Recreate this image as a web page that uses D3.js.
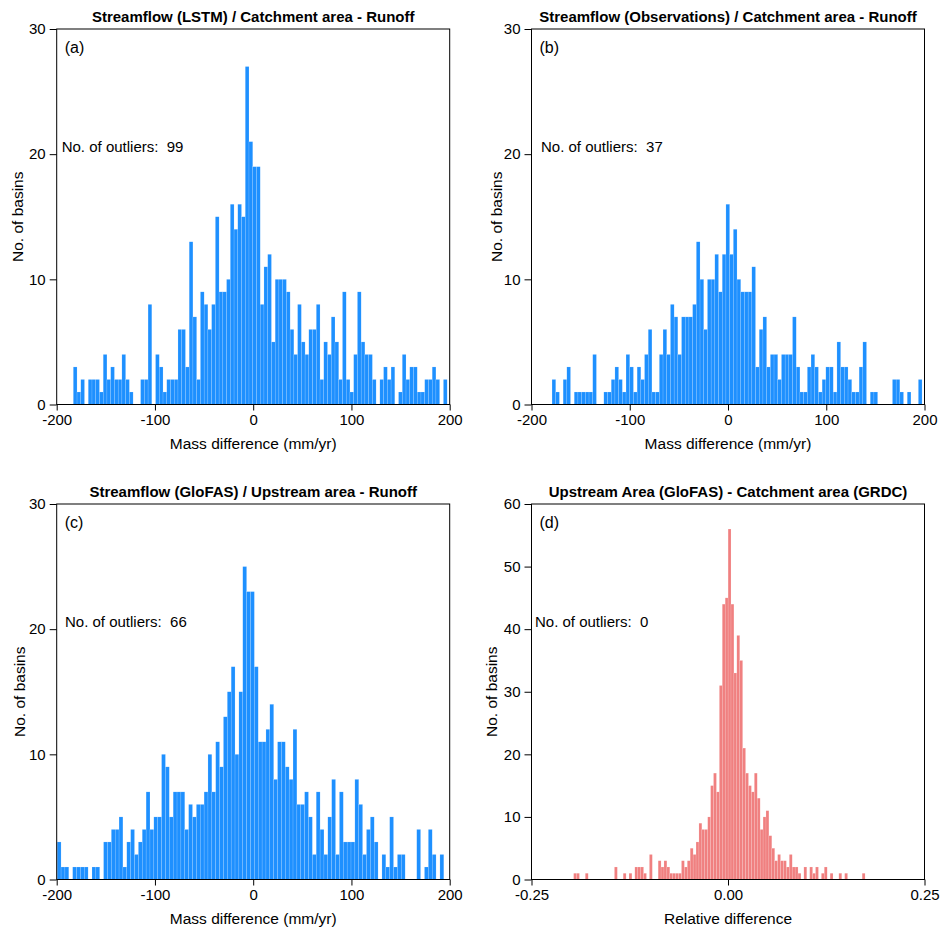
<!DOCTYPE html>
<html>
<head>
<meta charset="utf-8">
<script src="https://cdn.jsdelivr.net/npm/d3@7"></script>
<style>
  body { margin: 0; background: #fff; }
  text { font-family: "Liberation Sans", Arial, Helvetica, sans-serif; }
</style>
</head>
<body>
<div id="chart"></div>
<script>
// histogram counts, 100 equal bins per panel
var countsA = [3,1,2,0,2,2,2,1,4,2, 3,2,2,4,2,1,0,0,2,2, 8,0,4,3,1,2,2,2,6,6,
  3,13,7,2,9,8,6,8,15,9, 9,10,16,14,16,15,27,21,19,19, 8,11,12,5,10,10,10,9,6,4,
  8,5,4,6,6,8,2,5,4,7, 5,2,9,2,1,4,9,5,4,4, 2,0,2,3,2,3,0,1,4,2, 3,3,1,1,2,2,3,2,0,2];
var countsB = [2,1,0,2,3,0,1,1,1,1, 1,4,0,0,1,1,2,3,2,1, 4,3,1,3,2,4,6,1,1,4,
  6,4,8,7,4,7,7,7,8,13, 10,6,10,10,12,9,12,16,12,14, 10,9,9,9,11,3,6,7,3,4,
  4,2,4,4,4,7,3,1,1,3, 4,3,1,2,3,3,1,5,3,3, 2,1,1,3,5,0,1,1,0,0, 0,0,2,2,1,0,1,0,0,2];
var countsC = [3,1,1,0,1,1,1,1,0,1, 1,0,3,3,4,4,5,1,3,4, 2,3,4,7,4,5,5,10,9,5,
  7,7,7,4,6,5,6,6,7,10, 7,11,9,13,15,17,10,15,25,23, 23,17,11,11,12,14,8,11,11,9,
  8,12,6,6,7,5,2,7,4,2, 5,8,2,7,3,3,3,8,6,2, 4,5,3,0,2,1,5,1,2,2, 0,0,0,4,0,1,4,2,0,2];
var countsD = [1,1,0,0,1,0,0,0,0,0, 0,0,0,0,2,0,0,1,0,1, 0,2,2,2,1,0,4,0,0,3,
  2,3,2,1,1,1,1,3,2,3, 5,4,6,9,8,8,10,15,17,14, 31,44,45,56,44,33,39,35,21,17,
  15,14,17,13,8,10,11,7,5,3, 4,3,3,2,4,2,2,1,0,2, 0,2,1,2,0,1,2,0,1,0, 0,1,0,1,0,0,0,0,0,1];

// data range covered by the bins (min, max)
var rangeA = [-183.1, 197.4];
var rangeB = [-179.1, 197.5];
var rangeC = [-199.5, 194.0];
var rangeD = [-0.1964, 0.1744];

var titles = [
  "Streamflow (LSTM) / Catchment area - Runoff",
  "Streamflow (Observations) / Catchment area - Runoff",
  "Streamflow (GloFAS) / Upstream area - Runoff",
  "Upstream Area (GloFAS) - Catchment area (GRDC)"
];
var panelLabels = ["(a)", "(b)", "(c)", "(d)"];
var outliers = [99, 37, 66, 0];
var xTitles = ["Mass difference (mm/yr)", "Mass difference (mm/yr)", "Mass difference (mm/yr)", "Relative difference"];
var massTicks = [-200, -100, 0, 100, 200];
var relTicks = [-0.25, 0, 0.25];
var countTicks30 = [0, 10, 20, 30];
var countTicks60 = [0, 10, 20, 30, 40, 50, 60];

var W = 950, H = 938;
var svg = d3.select("#chart").append("svg")
  .attr("width", W).attr("height", H);

// plain hyphen for negatives, like the original
function hyphen(f) {
  return function(d) { return f(d).replace("\u2212", "-"); };
}

var panels = [
  {counts: countsA, range: rangeA, xdom: [-200, 200], xticks: massTicks, fmt: hyphen(d3.format("d")),
   ymax: 30, yticks: countTicks30, color: "#1e90ff", left: 56.7, top: 29, outX: 5, ylabX: 18},
  {counts: countsB, range: rangeB, xdom: [-200, 200], xticks: massTicks, fmt: hyphen(d3.format("d")),
   ymax: 30, yticks: countTicks30, color: "#1e90ff", left: 531.5, top: 29, outX: 9.5, ylabX: 497},
  {counts: countsC, range: rangeC, xdom: [-200, 200], xticks: massTicks, fmt: hyphen(d3.format("d")),
   ymax: 30, yticks: countTicks30, color: "#1e90ff", left: 56.7, top: 504, outX: 8.3, ylabX: 20},
  {counts: countsD, range: rangeD, xdom: [-0.25, 0.25], xticks: relTicks, fmt: hyphen(d3.format(".2f")),
   ymax: 60, yticks: countTicks60, color: "#f08080", left: 531.5, top: 504, outX: 3.5, ylabX: 492}
];

var pw = 393, ph = 375.5;

panels.forEach(function(p, i) {
  var g = svg.append("g")
    .attr("transform", "translate(" + p.left + "," + p.top + ")");

  var x = d3.scaleLinear().domain(p.xdom).range([0, pw]);
  var y = d3.scaleLinear().domain([0, p.ymax]).range([ph, 0]);

  // bins
  var n = p.counts.length;
  var step = (p.range[1] - p.range[0]) / n;
  var bins = p.counts.map(function(c, k) {
    return {x0: p.range[0] + k * step, x1: p.range[0] + (k + 1) * step, n: c};
  });

  g.selectAll("rect.bar")
    .data(bins.filter(function(d) { return d.n > 0; }))
    .enter()
    .append("rect")
      .attr("class", "bar")
      .attr("x", function(d) { return x(d.x0); })
      .attr("y", function(d) { return y(d.n); })
      .attr("width", function(d) { return x(d.x1) - x(d.x0); })
      .attr("height", function(d) { return y(0) - y(d.n); })
      .attr("fill", p.color)
      .attr("stroke", "#ffffff")
      .attr("stroke-opacity", 0.35)
      .attr("stroke-width", 0.4);

  // frame
  g.append("rect")
    .attr("width", pw).attr("height", ph)
    .attr("fill", "none").attr("stroke", "#000").attr("stroke-width", 1);

  // axes
  var xa = g.append("g")
    .attr("transform", "translate(0," + ph + ")")
    .call(d3.axisBottom(x).tickValues(p.xticks).tickFormat(p.fmt).tickSize(6).tickPadding(4));
  var ya = g.append("g")
    .call(d3.axisLeft(y).tickValues(p.yticks).tickSize(7).tickPadding(4));
  [xa, ya].forEach(function(a) {
    a.select(".domain").remove();
    a.selectAll("text")
      .style("font-size", "15px")
      .style("font-family", "'Liberation Sans', Arial, sans-serif")
      .attr("fill", "#000");
    a.selectAll("line").attr("stroke", "#000");
  });

  // title
  g.append("text")
    .attr("x", pw / 2).attr("y", -7)
    .attr("text-anchor", "middle")
    .style("font-size", "15px").style("font-weight", "bold")
    .text(titles[i]);

  // panel letter
  g.append("text")
    .attr("x", 8).attr("y", 24)
    .style("font-size", "16px")
    .text(panelLabels[i]);

  // outliers
  g.append("text")
    .attr("x", p.outX).attr("y", ph * 0.314 + 5.5)
    .style("font-size", "15px")
    .text("No. of outliers:  " + outliers[i])
    .attr("xml:space", "preserve")
    .style("white-space", "pre");

  // axis titles
  g.append("text")
    .attr("x", pw / 2).attr("y", ph + 44)
    .attr("text-anchor", "middle")
    .style("font-size", "15.5px")
    .text(xTitles[i]);

  svg.append("text")
    .attr("transform", "translate(" + p.ylabX + "," + (p.top + ph / 2) + ") rotate(-90)")
    .attr("text-anchor", "middle")
    .attr("dy", "0.35em")
    .style("font-size", "15.5px")
    .text("No. of basins");
});
</script>
</body>
</html>
